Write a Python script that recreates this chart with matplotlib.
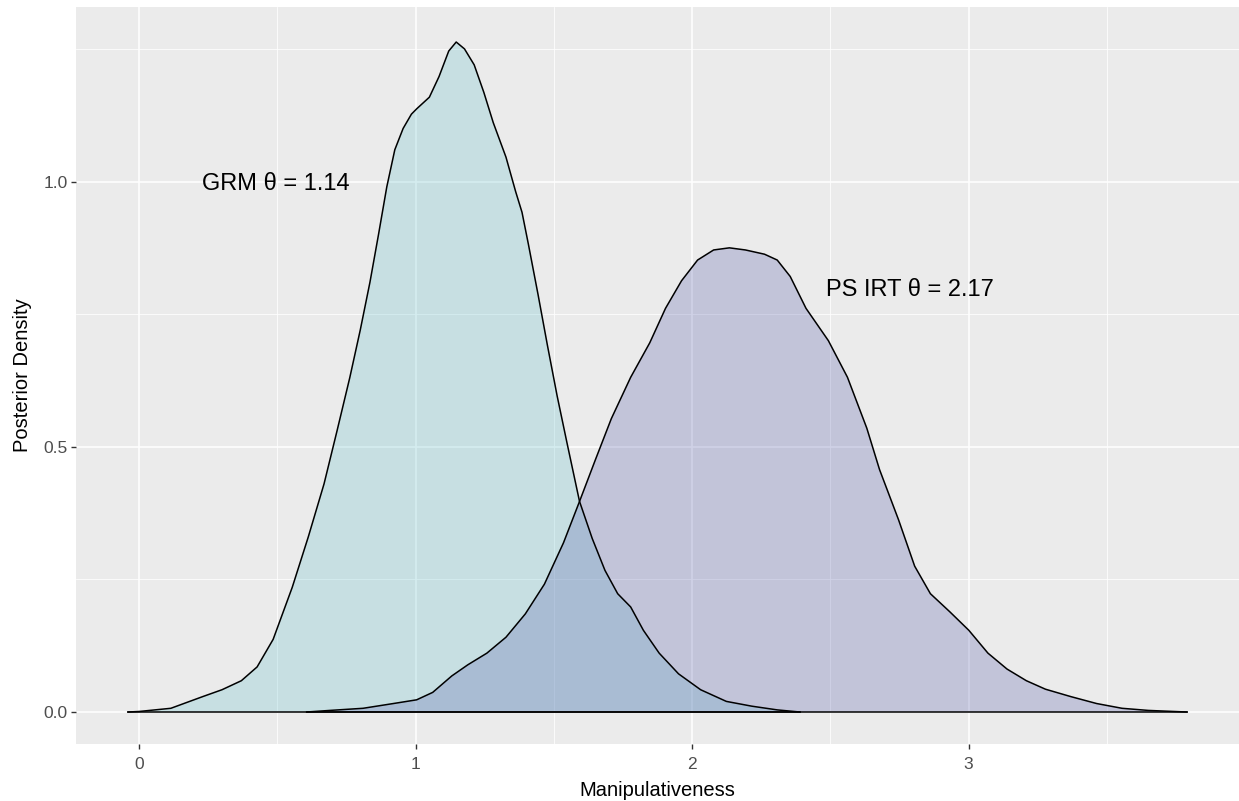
import numpy as np
import matplotlib.pyplot as plt

plt.rcParams['font.family'] = ['Liberation Sans', 'DejaVu Sans']

# posterior density of the GRM estimate
grm_x = [-0.04, 0.0, 0.115, 0.23, 0.30, 0.37, 0.427, 0.485, 0.554, 0.612, 0.669,
         0.716, 0.762, 0.80, 0.835, 0.866, 0.896, 0.925, 0.955, 0.985, 1.004, 1.05,
         1.085, 1.12, 1.147, 1.177, 1.212, 1.247, 1.281, 1.327, 1.362, 1.385,
         1.408, 1.443, 1.477, 1.512, 1.547, 1.593, 1.639, 1.685, 1.731, 1.778,
         1.824, 1.881, 1.951, 2.031, 2.124, 2.216, 2.308, 2.39]
grm_y = [0.0, 0.001, 0.007, 0.029, 0.042, 0.059, 0.085, 0.137, 0.235, 0.33, 0.43,
         0.53, 0.63, 0.72, 0.81, 0.90, 0.99, 1.06, 1.10, 1.127, 1.137, 1.159,
         1.198, 1.246, 1.263, 1.250, 1.220, 1.168, 1.111, 1.046, 0.981, 0.942,
         0.882, 0.787, 0.691, 0.596, 0.509, 0.397, 0.327, 0.267, 0.223, 0.198,
         0.154, 0.111, 0.072, 0.042, 0.020, 0.011, 0.004, 0.0]

# posterior density of the PS IRT estimate
ps_x = [0.606, 0.69, 0.81, 0.92, 1.004, 1.062, 1.131, 1.189, 1.258, 1.327, 1.397,
        1.466, 1.535, 1.593, 1.65, 1.708, 1.778, 1.847, 1.904, 1.962, 2.02,
        2.078, 2.135, 2.193, 2.262, 2.308, 2.355, 2.412, 2.493, 2.562, 2.632,
        2.678, 2.747, 2.805, 2.862, 2.932, 3.001, 3.07, 3.139, 3.209, 3.278,
        3.37, 3.463, 3.555, 3.65, 3.79]
ps_y = [0.0, 0.003, 0.007, 0.016, 0.023, 0.037, 0.068, 0.089, 0.111, 0.141, 0.185,
        0.241, 0.319, 0.397, 0.475, 0.553, 0.631, 0.696, 0.761, 0.813, 0.852,
        0.871, 0.875, 0.871, 0.863, 0.852, 0.821, 0.761, 0.700, 0.631, 0.535,
        0.457, 0.362, 0.275, 0.223, 0.189, 0.154, 0.111, 0.081, 0.059, 0.043,
        0.029, 0.016, 0.007, 0.003, 0.0]

labels = ['GRM θ = 1.14', 'PS IRT θ = 2.17']
label_x = [0.495, 2.789]
label_y = [0.995, 0.795]

fig = plt.figure(figsize=(12.39, 8.01), dpi=100)
ax = fig.add_axes([76/1239, (801-744)/801, (1239-76)/1239, (744-7)/801])
ax.set_facecolor('#EBEBEB')

ax.fill(grm_x, grm_y, facecolor='#76C6D0', alpha=0.3, edgecolor='none', zorder=2)
ax.fill(ps_x, ps_y, facecolor='#666CB2', alpha=0.3, edgecolor='none', zorder=3)
ax.plot(grm_x, grm_y, color='black', lw=1.1, zorder=4)
ax.plot(ps_x, ps_y, color='black', lw=1.1, zorder=4)
ax.plot([grm_x[0], grm_x[-1]], [0, 0], color='black', lw=1.1, zorder=4)
ax.plot([ps_x[0], ps_x[-1]], [0, 0], color='black', lw=1.1, zorder=4)

for t, x, y in zip(labels, label_x, label_y):
    ax.text(x, y, t, fontsize=17, ha='center', va='center', color='black', zorder=5)

ax.set_xlim(-0.228, 3.978)
ax.set_ylim(-0.0603, 1.329)
ax.set_xticks([0, 1, 2, 3])
ax.set_yticks([0.0, 0.5, 1.0])
ax.set_yticklabels(['0.0', '0.5', '1.0'])
ax.set_xticks([0.5, 1.5, 2.5, 3.5], minor=True)
ax.set_yticks([0.25, 0.75, 1.25], minor=True)
ax.grid(which='major', color='white', lw=1.1, zorder=0)
ax.grid(which='minor', color='white', lw=0.55, zorder=0)
ax.set_axisbelow(True)
ax.tick_params(which='major', length=3.6, width=1, color='#333333', labelcolor='#4D4D4D',
               labelsize=12.5)
ax.tick_params(axis='x', which='major', pad=6)
ax.tick_params(axis='y', which='major', pad=2.5)
ax.tick_params(which='minor', length=0)
for s in ax.spines.values():
    s.set_visible(False)

ax.set_xlabel('Manipulativeness', fontsize=14.5, color='black', labelpad=6)
ax.set_ylabel('Posterior Density', fontsize=14.5, color='black', labelpad=8)

fig.savefig('out.png', dpi=100)
